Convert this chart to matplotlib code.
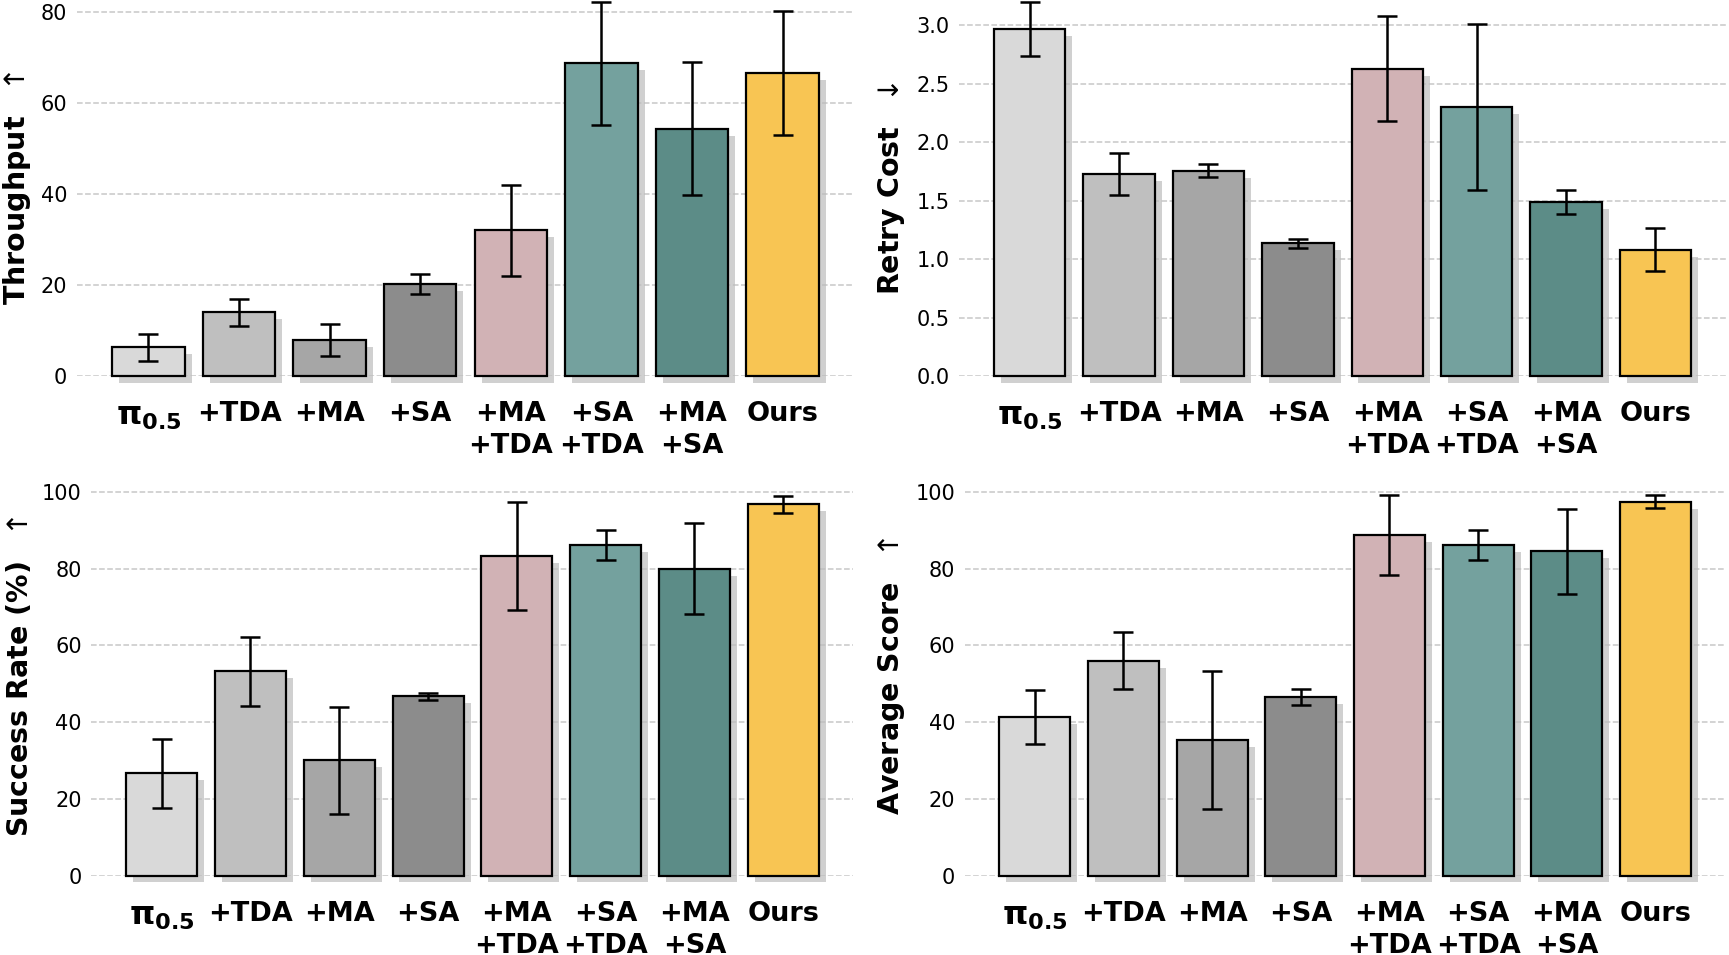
import matplotlib
matplotlib.use("Agg")
import matplotlib.pyplot as plt
import matplotlib.patheffects as pe

# methods and bar colours
methods = ["π$_{\\mathbf{0.5}}$", "+TDA", "+MA", "+SA", "+MA\n+TDA", "+SA\n+TDA", "+MA\n+SA", "Ours"]
colors = ["#D9D9D9", "#BFBFBF", "#A6A6A6", "#8C8C8C", "#D1B2B5", "#74A19E", "#5C8C87", "#F8C553"]

# values (mean, error)
throughput = [6.3, 14.0, 7.9, 20.2, 32.0, 68.7, 54.3, 66.5]
throughput_err = [3.0, 3.0, 3.5, 2.2, 10.0, 13.5, 14.6, 13.6]

retry_cost = [2.97, 1.73, 1.755, 1.135, 2.63, 2.30, 1.49, 1.08]
retry_cost_err = [0.23, 0.18, 0.055, 0.04, 0.45, 0.71, 0.105, 0.185]

success_rate = [26.7, 53.3, 30.0, 46.7, 83.3, 86.1, 80.0, 96.8]
success_rate_err = [9.0, 9.0, 14.0, 1.0, 14.0, 3.9, 11.9, 2.2]

avg_score = [41.3, 56.0, 35.3, 46.5, 88.7, 86.2, 84.5, 97.4]
avg_score_err = [7.0, 7.5, 17.9, 2.0, 10.4, 3.9, 11.0, 1.7]

panels = [
    # values, errors, ylabel, ylim, yticks, [left, bottom, width, height], label x
    (throughput, throughput_err, "Throughput  $\\uparrow$", (0, 82.6), [0, 20, 40, 60, 80],
     [0.0445, 0.6063, 0.4495, 0.3937], -0.056),
    (retry_cost, retry_cost_err, "Retry Cost  $\\downarrow$", (0, 3.217), [0.0, 0.5, 1.0, 1.5, 2.0, 2.5, 3.0],
     [0.5547, 0.6063, 0.4436, 0.3937], -0.068),
    (success_rate, success_rate_err, "Success Rate (%)  $\\uparrow$", (0, 104), [0, 20, 40, 60, 80, 100],
     [0.0529, 0.0832, 0.4407, 0.4178], -0.075),
    (avg_score, avg_score_err, "Average Score  $\\uparrow$", (0, 104), [0, 20, 40, 60, 80, 100],
     [0.558, 0.0832, 0.440, 0.4178], -0.076),
]

fig = plt.figure(figsize=(17.29, 9.55), dpi=100)

for vals, errs, ylabel, ylim, yticks, pos, lab_x in panels:
    ax = fig.add_axes(pos)
    x = list(range(len(methods)))
    bars = ax.bar(x, vals, width=0.8, color=colors, edgecolor="black", linewidth=1.6, zorder=3)
    for b in bars:
        b.set_clip_on(False)
        b.set_path_effects([pe.SimplePatchShadow(offset=(5, -5), shadow_rgbFace="#bdbdbd", alpha=0.7),
                            pe.Normal()])
    ax.errorbar(x, vals, yerr=errs, fmt="none", ecolor="black", elinewidth=1.8,
                capsize=7.5, capthick=1.8, zorder=4, clip_on=False)

    ax.set_xlim(-0.79, 7.79)
    ax.set_ylim(*ylim)
    ax.set_yticks(yticks)
    if isinstance(yticks[1], float):
        ax.set_yticklabels([f"{t:.1f}" for t in yticks])
    ax.set_xticks(x)
    ax.set_xticklabels(methods, fontsize=19.5, fontweight="bold", linespacing=1.3)
    ax.get_xticklabels()[0].set_fontsize(23)
    ax.tick_params(axis="x", length=0, pad=18)
    ax.tick_params(axis="y", length=0, pad=7, labelsize=15)

    ax.grid(axis="y", linestyle="--", color="#c8c8c8", linewidth=1.1)
    ax.set_axisbelow(True)
    for s in ax.spines.values():
        s.set_visible(False)

    ax.set_ylabel(ylabel, fontsize=20.5, fontweight="bold")
    ax.yaxis.set_label_coords(lab_x, 0.5)

fig.savefig("out.png", dpi=100)
